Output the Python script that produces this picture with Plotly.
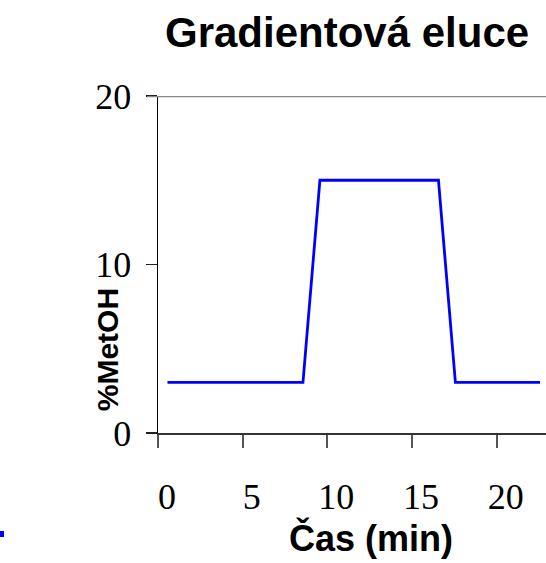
import plotly.graph_objects as go

# Data
time_min = [0, 8, 9, 16, 17, 22]
metoh_pct = [3, 3, 15, 15, 3, 3]
x_tick_values = [0, 5, 10, 15, 20]
x_tick_labels = ["0", "5", "10", "15", "20"]
y_tick_values = [0, 10, 20]
y_tick_labels = ["0", "10", "20"]

W, H = 546, 563
L, R, T, B = 158, 0, 96, 130

tick_offset = -0.56  # tick marks sit slightly left of their labels in the original

fig = go.Figure()
fig.add_trace(go.Scatter(
    x=time_min, y=metoh_pct, mode="lines",
    line=dict(color="#0000FF", width=2.8),
    showlegend=False, hoverinfo="skip",
))

fig.update_layout(
    width=W, height=H,
    margin=dict(l=L, r=R, t=T, b=B, pad=0),
    paper_bgcolor="white", plot_bgcolor="white",
    xaxis=dict(
        range=[tick_offset, 22.35],
        tickvals=[v + tick_offset for v in x_tick_values],
        ticktext=x_tick_labels,
        ticks="outside", ticklen=13, tickwidth=2, tickcolor="#555555",
        ticklabelshift=9,
        ticklabelstandoff=18,
        showline=True, linecolor="#333333", linewidth=2,
        showgrid=False, zeroline=False,
        tickfont=dict(family="Liberation Serif", size=36, color="black"),
        fixedrange=True,
    ),
    yaxis=dict(
        range=[0, 20],
        tickvals=y_tick_values,
        ticktext=y_tick_labels,
        ticks="outside", ticklen=11, tickwidth=1.5, tickcolor="#222222",
        ticklabelstandoff=7,
        showline=True, linecolor="black", linewidth=1.5,
        showgrid=False, zeroline=False,
        tickfont=dict(family="Liberation Serif", size=36, color="black"),
        fixedrange=True,
    ),
    shapes=[
        dict(type="line", xref="paper", yref="y", x0=-11/388, x1=1, y0=20, y1=20,
             line=dict(color="#888888", width=2.5)),
        dict(type="rect", xref="paper", yref="paper",
             x0=-158/388, x1=-154/388, y0=(433-537)/337, y1=(433-531)/337,
             line=dict(width=0), fillcolor="#0000FF"),
    ],
    annotations=[
        dict(text="<b>Gradientová eluce</b>", xref="paper", yref="paper",
             x=0.486, y=1.187, xanchor="center", yanchor="middle", showarrow=False,
             font=dict(family="Liberation Sans", size=42, color="black")),
        dict(text="<b>Čas (min)</b>", xref="paper", yref="paper",
             x=0.549, y=-0.312, xanchor="center", yanchor="middle", showarrow=False,
             font=dict(family="Liberation Sans", size=36, color="black")),
        dict(text="<b>%MetOH</b>", xref="paper", yref="paper", textangle=-90,
             x=-0.131, y=0.246, xanchor="center", yanchor="middle", showarrow=False,
             font=dict(family="Liberation Sans", size=30, color="black")),
    ],
)

fig.write_html(
    "out.html",
    config={"displayModeBar": False, "staticPlot": True},
    post_script="document.body.style.margin='0';document.body.style.overflow='hidden';",
)
